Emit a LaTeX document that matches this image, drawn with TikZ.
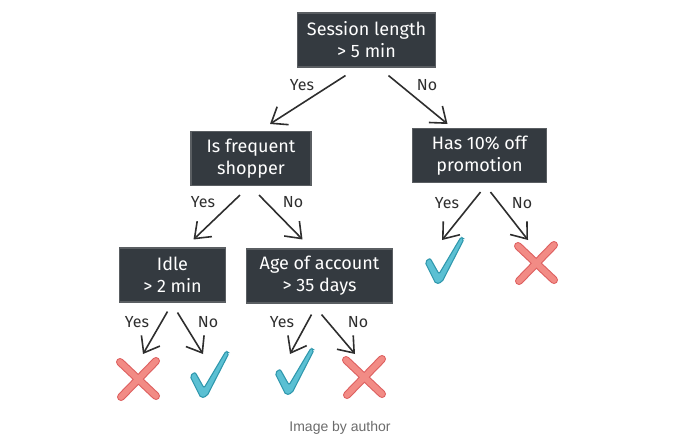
\documentclass[tikz,border=0pt]{standalone}
\usepackage{fontspec}
\setmainfont{Fira Sans}
\newfontfamily\captionfont{Liberation Sans}
\usetikzlibrary{calc,arrows.meta}

\definecolor{boxfill}{HTML}{343A40}
\definecolor{boxedge}{HTML}{5A5E62}
\definecolor{ink}{HTML}{2E2E2E}
\definecolor{tickfill}{HTML}{5BC0D3}
\definecolor{tickedge}{HTML}{2F97AC}
\definecolor{crossfill}{HTML}{F28B85}
\definecolor{crossedge}{HTML}{DD5F5F}
\definecolor{captiongray}{HTML}{6B6B6B}

\begin{document}
\begin{tikzpicture}[x=0.75pt,y=-0.75pt,
  box/.style = {rectangle,draw=boxedge,line width=0.8pt,fill=boxfill,text=white,align=center,
                minimum height=40.5pt,inner sep=0pt,font=\fontsize{13.5}{16.5}\selectfont},
  arr/.style = {draw=ink,line width=1.2pt,-{Straight Barb[length=10.5pt,width=16pt,line width=1.2pt]}},
  lbl/.style = {text=ink,font=\fontsize{12}{14}\selectfont},
  tick/.pic = {
    \filldraw[fill=tickfill,draw=tickedge,line width=0.8pt,rounded corners=1.5pt]
      (-20,1) -- (-15,-3) -- (-6,13) -- (16,-24) -- (19,-22) -- (-3,21) -- (-9,23) -- cycle;
  },
  cross/.pic = {
    \draw[crossedge,line width=6pt,line cap=round] (-18,-17) -- (18,17) (18,-18) -- (-17,18);
    \draw[crossfill,line width=4.4pt,line cap=round] (-18,-17) -- (18,17) (18,-18) -- (-17,18);
  },
]
\useasboundingbox (0,0) rectangle (680,437);

\node[box,minimum width=104pt] (session) at (366.5,40) {Session length\\> 5 min};
\node[box,minimum width=90pt] (shopper) at (251,158.5) {Is frequent\\shopper};
\node[box,minimum width=101pt] (promo) at (479.5,155.5) {Has 10\% off\\promotion};
\node[box,minimum width=79pt] (idle) at (172.5,275) {Idle\\> 2 min};
\node[box,minimum width=109pt] (age) at (319.5,276) {Age of account\\> 35 days};

\coordinate (promoyes) at (445,261);
\coordinate (promono) at (536,263);
\coordinate (idleyes) at (138,379);
\coordinate (idleno) at (210,375);
\coordinate (ageyes) at (295,372);
\coordinate (ageno) at (364,377);

\pic at (promoyes) {tick};
\pic at (promono) {cross};
\pic at (idleyes) {cross};
\pic at (idleno) {tick};
\pic at (ageyes) {tick};
\pic at (ageno) {cross};

\draw[arr] ($(session.south)+(-21,8)$) -- ($(shopper.north)+(19,-7)$);
\draw[arr] ($(session.south)+(22,8)$) -- ($(promo.north)+(-32,-4)$);
\draw[arr] ($(shopper.south)+(-11,9)$) -- ($(idle.north)+(21,-8)$);
\draw[arr] ($(shopper.south)+(8,9)$) -- ($(age.north)+(-17,-9)$);
\draw[arr] ($(promo.south)+(1,9)$) -- ($(promoyes)+(-3,-21)$);
\draw[arr] ($(promo.south)+(11,9)$) -- ($(promono)+(-8,-23)$);
\draw[arr] ($(idle.south)+(-5,9)$) -- ($(idleyes)+(5,-25)$);
\draw[arr] ($(idle.south)+(5,10)$) -- ($(idleno)+(-7,-21)$);
\draw[arr] ($(age.south)+(-8,11)$) -- ($(ageyes)+(-5,-18)$);
\draw[arr] ($(age.south)+(2,11)$) -- ($(ageno)+(-9,-23)$);

\node[lbl] (sessionyes) at (302,85) {Yes};
\node[lbl] (sessionno) at (427,85) {No};
\node[lbl] (shopperyes) at (203,202) {Yes};
\node[lbl] (shopperno) at (293,202) {No};
\node[lbl] (promoyestxt) at (447,203) {Yes};
\node[lbl] (promonotxt) at (522,203) {No};
\node[lbl] (idleyestxt) at (137,322) {Yes};
\node[lbl] (idlenotxt) at (208,322) {No};
\node[lbl] (ageyestxt) at (282,322) {Yes};
\node[lbl] (agenotxt) at (358,322) {No};

\node[text=captiongray,font=\captionfont\fontsize{10.5}{12}\selectfont] (caption) at (340,428) {Image by author};

\end{tikzpicture}
\end{document}
